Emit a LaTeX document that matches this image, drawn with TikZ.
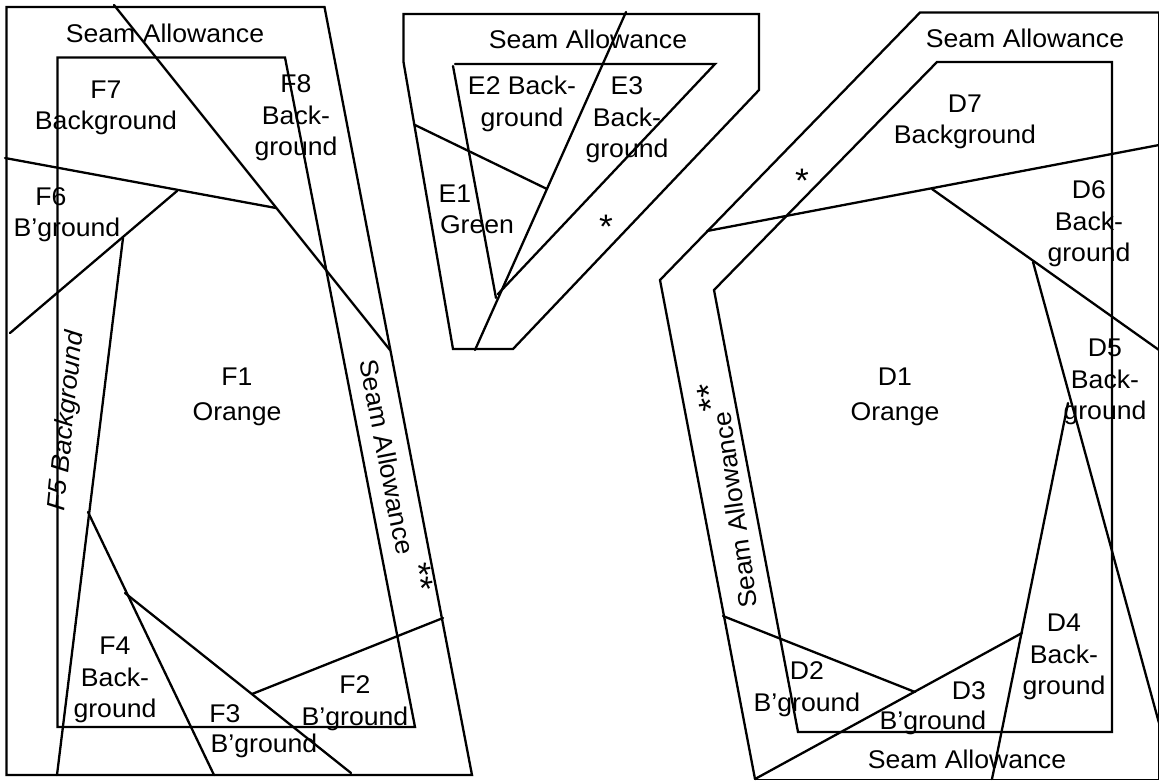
\documentclass[tikz,border=0pt]{standalone}
\usepackage{fontspec}
\setmainfont[FakeStretch=1.04]{Liberation Sans}
\tikzset{
  seam/.style={line width=2.3pt, line cap=round, line join=miter, black},
  lab/.style={font=\fontsize{25.6}{31.5}\selectfont, align=center, inner sep=0pt, text=black},
  star/.style={font=\fontsize{34}{34}\selectfont, inner sep=0pt, text=black},
}
\begin{document}
\begin{tikzpicture}[x=1pt,y=-1pt]
\useasboundingbox (0,0) rectangle (1159,780);
% F block
\draw[seam] (6.5,7) -- (324.5,7) -- (472,775) -- (6.5,775) -- cycle;
\draw[seam] (57.5,57.5) -- (285,57.5) -- (415,727) -- (57.5,727) -- cycle;
\coordinate (f8a) at (114,5); \coordinate (f8b) at (390,350);
\draw[seam] (f8a) -- (f8b);
\coordinate (f7a) at (5,158); \coordinate (f7b) at (276,208);
\draw[seam] (f7a) -- (f7b);
\coordinate (f6a) at (177,191); \coordinate (f6b) at (10,333);
\draw[seam] (f6a) -- (f6b);
\coordinate (f5a) at (123,238); \coordinate (f5b) at (57,775);
\draw[seam] (f5a) -- (f5b);
\coordinate (f4a) at (88,512); \coordinate (f4b) at (214,775);
\draw[seam] (f4a) -- (f4b);
\coordinate (f3a) at (125,593); \coordinate (f3b) at (351,773);
\draw[seam] (f3a) -- (f3b);
\coordinate (f2a) at (252,694); \coordinate (f2b) at (443,618);
\draw[seam] (f2a) -- (f2b);
% E block
\draw[seam] (403.5,14) -- (759,14) -- (759,90) -- (513,349) -- (453,349) -- (403.5,62) -- cycle;
\coordinate (e3a) at (455,64); \coordinate (e3b) at (715,64); \coordinate (e3c) at (498,294);
\draw[seam] (e3a) -- (e3b) -- (e3c);
\coordinate (e2a) at (453,66); \coordinate (e2b) at (496,298);
\draw[seam] (e2a) -- (e2b);
\coordinate (e4a) at (626,12); \coordinate (e4b) at (475,350);
\draw[seam] (e4a) -- (e4b);
\coordinate (e1a) at (415,125); \coordinate (e1b) at (547,189);
\draw[seam] (e1a) -- (e1b);
% D block
\draw[seam] (755,779) -- (660,280) -- (920,12.5) -- (1159,12.5);
\draw[line width=1pt] (1158.5,12.5) -- (1158.5,779) (755,779) -- (1159,779);
\draw[seam] (714,290) -- (937,62) -- (1112,62) -- (1112,732) -- (798,732) -- cycle;
\coordinate (d7a) at (707,231); \coordinate (d7b) at (1159,145);
\draw[seam] (d7a) -- (d7b);
\coordinate (d6a) at (932,189); \coordinate (d6b) at (1159,350);
\draw[seam] (d6a) -- (d6b);
\coordinate (d5a) at (1033,262); \coordinate (d5b) at (1159,723);
\draw[seam] (d5a) -- (d5b);
\coordinate (d4a) at (1068,403); \coordinate (d4b) at (992,779);
\draw[seam] (d4a) -- (d4b);
\coordinate (d3a) at (1022,633); \coordinate (d3b) at (755,779);
\draw[seam] (d3a) -- (d3b);
\coordinate (d2a) at (723,616); \coordinate (d2b) at (915,692);
\draw[seam] (d2a) -- (d2b);
% F labels
\node[lab] (tfs) at (165,33) {Seam Allowance};
\node[lab] (tf7) at (106,108) {F7\\Background};
\node[lab] (tf8) at (296,118) {F8\\Back-\\ground};
\node[lab] (tf6) at (51,197) {F6};
\node[lab] (tf6b) at (67,230) {B’ground};
\node[lab] (tf1) at (237,397) {F1\\[3pt]Orange};
\node[lab,rotate=84,font=\fontsize{25.6}{31}\selectfont\itshape] (tf5) at (67,421) {F5 Background};
\node[lab,rotate=-79] (tfsr) at (387,457) {Seam Allowance};
\node[star,rotate=-80] (tfst) at (420,577) {**};
\node[lab] (tf4) at (115,680) {F4\\Back-\\ground};
\node[lab] (tf3) at (225,714) {F3};
\node[lab] (tf3b) at (264,746) {B’ground};
\node[lab] (tf2) at (355,703) {F2\\B’ground};
% E labels
\node[lab] (tes) at (588,39) {Seam Allowance};
\node[lab] (te2) at (522,104) {E2 Back-\\ground};
\node[lab] (te3) at (627,120) {E3\\Back-\\ground};
\node[lab] (te1) at (455,194) {E1};
\node[lab] (te1b) at (477,225) {Green};
\node[star] (tet) at (606,227) {*};
% D labels
\node[lab] (tds) at (1025,38) {Seam Allowance};
\node[lab] (td7) at (965,122) {D7\\Background};
\node[star] (tdt) at (802,181) {*};
\node[lab] (td6) at (1089,224) {D6\\Back-\\ground};
\node[lab] (td5) at (1105,382) {D5\\Back-\\ground};
\node[lab] (td1) at (895,397) {D1\\[3pt]Orange};
\node[lab,rotate=98] (tdsr) at (735,510) {Seam Allowance};
\node[star,rotate=98] (tdst) at (710,397) {**};
\node[lab] (td2) at (807,689) {D2\\B’ground};
\node[lab] (td3) at (969,691) {D3};
\node[lab] (td3b) at (933,723) {B’ground};
\node[lab] (td4) at (1064,657) {D4\\Back-\\ground};
\node[lab] (tds2) at (967,759) {Seam Allowance};
\end{tikzpicture}
\end{document}
